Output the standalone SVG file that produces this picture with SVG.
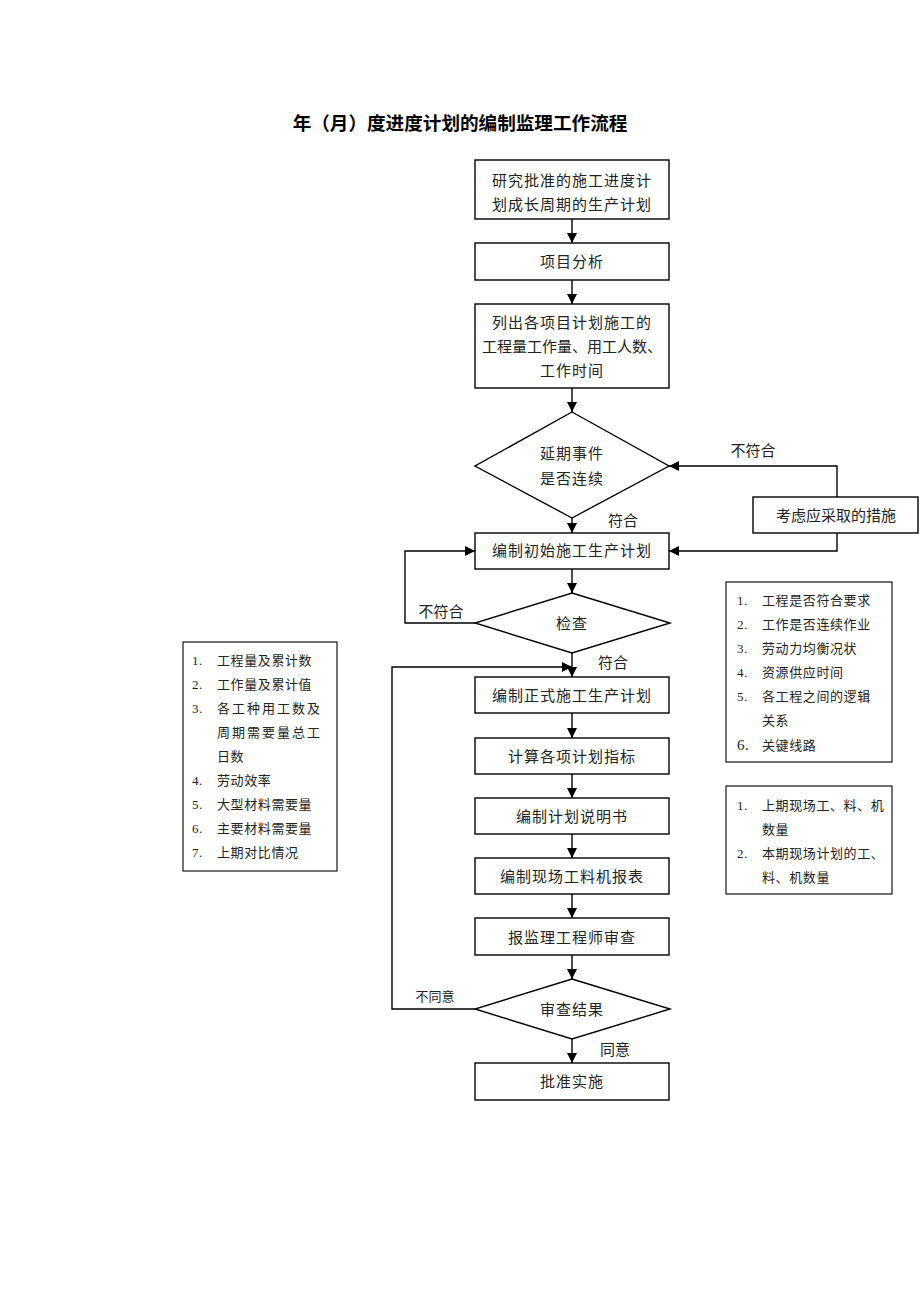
<svg xmlns="http://www.w3.org/2000/svg" width="920" height="1302" viewBox="0 0 920 1302">
<style>
.box{fill:#fff;stroke:#000;stroke-width:1.4}
.t{font-family:"Liberation Serif","Noto Sans CJK SC",serif;font-size:15px;fill:#222;text-anchor:middle;letter-spacing:1px}
.n{font-family:"Liberation Serif","Noto Sans CJK SC",serif;font-size:13px;fill:#222;letter-spacing:0.6px}
.lbl{font-family:"Liberation Serif","Noto Sans CJK SC",serif;font-size:15px;fill:#222;text-anchor:middle}
.c{fill:none;stroke:#000;stroke-width:1.4}
</style>
<defs>
<marker id="a" viewBox="0 0 10 10" refX="10" refY="5" markerWidth="10" markerHeight="10" markerUnits="userSpaceOnUse" orient="auto">
<path d="M0,0 L10,5 L0,10 z" fill="#000"/>
</marker>
</defs>
<rect width="920" height="1302" fill="#fff"/>
<text x="460" y="130" style="font-family:'Noto Sans CJK SC',sans-serif;font-size:18.6px;font-weight:bold;fill:#000" text-anchor="middle">年（月）度进度计划的编制监理工作流程</text>

<g id="connectors">
<path class="c" d="M572,219 V243" marker-end="url(#a)"/>
<path class="c" d="M572,280 V304" marker-end="url(#a)"/>
<path class="c" d="M572,388 V412" marker-end="url(#a)"/>
<path class="c" d="M572,518 V533" marker-end="url(#a)"/>
<path class="c" d="M837,497 V466 H669" marker-end="url(#a)"/>
<path class="c" d="M837,533 V551 H669" marker-end="url(#a)"/>
<path class="c" d="M572,569 V593" marker-end="url(#a)"/>
<path class="c" d="M475,623 H405 V551 H475" marker-end="url(#a)"/>
<path class="c" d="M572,653 V677" marker-end="url(#a)"/>
<path class="c" d="M475,1009 H392 V667 H572" marker-end="url(#a)"/>
<path class="c" d="M572,713 V738" marker-end="url(#a)"/>
<path class="c" d="M572,774 V798" marker-end="url(#a)"/>
<path class="c" d="M572,834 V858" marker-end="url(#a)"/>
<path class="c" d="M572,894 V918" marker-end="url(#a)"/>
<path class="c" d="M572,955 V979" marker-end="url(#a)"/>
<path class="c" d="M572,1039 V1063" marker-end="url(#a)"/>
<text class="lbl" x="753" y="456">不符合</text>
<text class="lbl" x="623" y="526">符合</text>
<text class="lbl" x="441" y="617">不符合</text>
<text class="lbl" x="613" y="668">符合</text>
<text class="lbl" x="435" y="1001" style="font-size:13px">不同意</text>
<text class="lbl" x="615" y="1055">同意</text>
</g>

<g id="n1"><rect class="box" x="475" y="160" width="194" height="59"/>
<text class="t" x="572" y="186">研究批准的施工进度计</text><text class="t" x="572" y="210">划成长周期的生产计划</text></g>
<g id="n2"><rect class="box" x="475" y="243" width="194" height="37"/><text class="t" x="572" y="267">项目分析</text></g>
<g id="n3"><rect class="box" x="475" y="304" width="194" height="84"/>
<text class="t" x="572" y="328">列出各项目计划施工的</text><text class="t" x="572" y="352" style="letter-spacing:0">工程量工作量、用工人数、</text><text class="t" x="572" y="376">工作时间</text></g>
<g id="d1"><polygon class="box" points="572,412 669,466 572,518 475,466"/>
<text class="t" x="572" y="459">延期事件</text><text class="t" x="572" y="484">是否连续</text></g>
<g id="n4"><rect class="box" x="475" y="533" width="194" height="36"/><text class="t" x="572" y="556">编制初始施工生产计划</text></g>
<g id="n_measure"><rect class="box" x="753" y="497" width="165" height="36"/><text class="t" x="836" y="521" style="letter-spacing:0">考虑应采取的措施</text></g>
<g id="d2"><polygon class="box" points="572,593 670,623 572,653 475,623"/><text class="t" x="572" y="629">检查</text></g>
<g id="n5"><rect class="box" x="475" y="677" width="194" height="36"/><text class="t" x="572" y="701">编制正式施工生产计划</text></g>
<g id="n6"><rect class="box" x="475" y="738" width="194" height="36"/><text class="t" x="572" y="762">计算各项计划指标</text></g>
<g id="n7"><rect class="box" x="475" y="798" width="194" height="36"/><text class="t" x="572" y="822">编制计划说明书</text></g>
<g id="n8"><rect class="box" x="475" y="858" width="194" height="36"/><text class="t" x="572" y="882">编制现场工料机报表</text></g>
<g id="n9"><rect class="box" x="475" y="918" width="194" height="37"/><text class="t" x="572" y="943">报监理工程师审查</text></g>
<g id="d3"><polygon class="box" points="572,979 670,1009 572,1039 475,1009"/><text class="t" x="572" y="1015">审查结果</text></g>
<g id="n10"><rect class="box" x="475" y="1063" width="194" height="37"/><text class="t" x="572" y="1087">批准实施</text></g>

<g id="note_left"><rect class="box" x="183" y="642" width="154" height="229" style="stroke-width:1.1"/>
<text class="n" x="192" y="665">1.</text><text class="n" x="217" y="665">工程量及累计数</text>
<text class="n" x="192" y="689">2.</text><text class="n" x="217" y="689">工作量及累计值</text>
<text class="n" x="192" y="713">3.</text><text class="n" x="217" y="713" style="letter-spacing:2px">各工种用工数及</text>
<text class="n" x="217" y="737" style="letter-spacing:2px">周期需要量总工</text>
<text class="n" x="217" y="761">日数</text>
<text class="n" x="192" y="785">4.</text><text class="n" x="217" y="785">劳动效率</text>
<text class="n" x="192" y="809">5.</text><text class="n" x="217" y="809">大型材料需要量</text>
<text class="n" x="192" y="833">6.</text><text class="n" x="217" y="833">主要材料需要量</text>
<text class="n" x="192" y="857">7.</text><text class="n" x="217" y="857">上期对比情况</text></g>

<g id="note_right1"><rect class="box" x="726" y="582" width="166" height="180" style="stroke-width:1.1"/>
<text class="n" x="737" y="605">1.</text><text class="n" x="762" y="605">工程是否符合要求</text>
<text class="n" x="737" y="629">2.</text><text class="n" x="762" y="629">工作是否连续作业</text>
<text class="n" x="737" y="653">3.</text><text class="n" x="762" y="653">劳动力均衡况状</text>
<text class="n" x="737" y="677">4.</text><text class="n" x="762" y="677">资源供应时间</text>
<text class="n" x="737" y="701">5.</text><text class="n" x="762" y="701">各工程之间的逻辑</text>
<text class="n" x="762" y="725">关系</text>
<text class="n" x="737" y="750" style="font-size:15px">6.</text><text class="n" x="762" y="750">关键线路</text></g>

<g id="note_right2"><rect class="box" x="726" y="786" width="166" height="108" style="stroke-width:1.1"/>
<text class="n" x="737" y="810">1.</text><text class="n" x="762" y="810">上期现场工、料、机</text>
<text class="n" x="762" y="834">数量</text>
<text class="n" x="737" y="858">2.</text><text class="n" x="762" y="858">本期现场计划的工、</text>
<text class="n" x="762" y="882">料、机数量</text></g>
</svg>
